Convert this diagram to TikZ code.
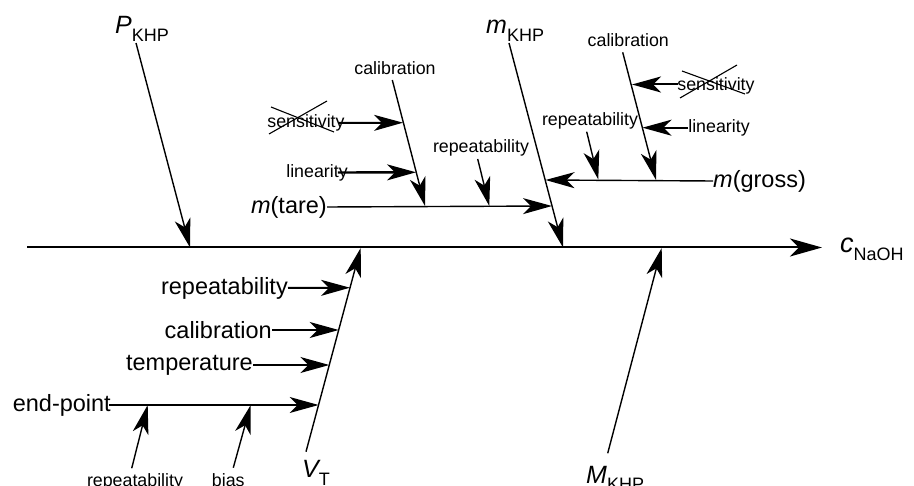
\documentclass[tikz,border=0pt]{standalone}
\usepackage{fontspec}
\setmainfont{Liberation Sans}
\usetikzlibrary{arrows.meta}

% italic quantity with a lowered upright index
\newcommand{\qsym}[3][25]{{\fontsize{#1}{#1}\selectfont\itshape #2}\raisebox{-8pt}{\fontsize{18}{18}\selectfont #3}}

\begin{document}
\begin{tikzpicture}[x=1pt,y=-1pt,
  bone/.style={line width=1.4pt,-{Stealth[length=29pt,width=16pt,inset=8pt]}},
  big/.style={inner sep=0pt,font=\fontsize{23.5}{26}\selectfont},
  small/.style={inner sep=0pt,font=\fontsize{17.8}{20}\selectfont},
  qty/.style={inner sep=0pt,anchor=base west},
  xout/.style={line width=1.1pt}]
  \useasboundingbox (0,0) rectangle (914,486);
  \clip (0,0) rectangle (914,486);

  % main spine
  \coordinate (s0) at (27,247.5);
  \coordinate (s1) at (822,247.5);
  \node[qty] (cnaoh) at (840,253) {\qsym[27]{c}{NaOH}};
  \draw[bone,line width=2pt,-{Stealth[length=32pt,width=18pt,inset=9pt]}] (s0) -- (s1);

  % purity of KHP
  \node[qty] (pkhp) at (115,33.5) {\qsym{P}{KHP}};
  \coordinate (pk0) at (136,43);
  \coordinate (pk1) at (190,247.5);
  \draw[bone] (pk0) -- (pk1);

  % mass of KHP
  \node[qty] (mkhp) at (486,33.5) {\qsym{m}{KHP}};
  \coordinate (mk0) at (509,43);
  \coordinate (mk1) at (563,247.5);
  \draw[bone] (mk0) -- (mk1);

  % tare weighing
  \node[big,anchor=east] (tare) at (327,207) {\textit{m}(tare)};
  \coordinate (tareE) at (552,206);
  \draw[bone] (tare.east) -- (tareE);
  \node[small] (calL) at (395,68) {calibration};
  \coordinate (cl0) at (392.3,80);
  \coordinate (cl1) at (425,206);
  \draw[bone] (cl0) -- (cl1);
  \node[small] (sensL) at (306,123) {sensitivity};
  \coordinate (slE) at (403,122.7);
  \draw[bone,line width=2pt] ([xshift=-6pt]sensL.east) -- (slE);
  \draw[xout] ([shift={(-35,-16)}]sensL.center) -- ([shift={(28,9)}]sensL.center);
  \draw[xout] ([shift={(-37,11)}]sensL.center) -- ([shift={(21,-22)}]sensL.center);
  \node[small] (linL) at (317,172.5) {linearity};
  \coordinate (llE) at (416,172.3);
  \draw[bone,line width=2.4pt] ([xshift=-10pt]linL.east) -- (llE);
  \node[small] (repT) at (481,148) {repeatability};
  \coordinate (rt0) at (477.7,159);
  \coordinate (rt1) at (489.3,206);
  \draw[bone] (rt0) -- (rt1);

  % gross weighing
  \node[big,anchor=west] (gross) at (713,181) {\textit{m}(gross)};
  \coordinate (grossE) at (545.5,180);
  \draw[bone] (gross.west) -- (grossE);
  \node[small] (calR) at (628.3,40) {calibration};
  \coordinate (cr0) at (622.7,52.3);
  \coordinate (cr1) at (656,180);
  \draw[bone] (cr0) -- (cr1);
  \node[small] (sensR) at (716,86) {sensitivity};
  \coordinate (srE) at (632,84.5);
  \draw[bone,line width=2pt] ([xshift=1pt]sensR.west |- srE) -- (srE);
  \draw[xout] ([shift={(-34,-15)}]sensR.center) -- ([shift={(29,8)}]sensR.center);
  \draw[xout] ([shift={(-36,12)}]sensR.center) -- ([shift={(21,-21)}]sensR.center);
  \node[small] (linR) at (719,128) {linearity};
  \coordinate (lrE) at (642.5,127.7);
  \draw[bone,line width=2pt] (linR.west |- lrE) -- (lrE);
  \node[small] (repG) at (590,121) {repeatability};
  \coordinate (rg0) at (586.7,131.7);
  \coordinate (rg1) at (598.3,179.5);
  \draw[bone] (rg0) -- (rg1);

  % titration volume
  \node[qty] (vt) at (302,478) {\qsym{V}{T}};
  \coordinate (vt0) at (306,451.7);
  \coordinate (vt1) at (360.7,248);
  \draw[bone] (vt0) -- (vt1);
  \node[big,anchor=east] (repV) at (288,288) {repeatability};
  \coordinate (rvE) at (350,287.7);
  \draw[bone,line width=2pt] (repV.east) -- (rvE);
  \node[big,anchor=east] (calV) at (272,330) {calibration};
  \coordinate (cvE) at (338.7,330);
  \draw[bone] (calV.east) -- (cvE);
  \node[big,anchor=east] (temp) at (253,365) {temperature};
  \coordinate (tvE) at (329.3,365);
  \draw[bone] (temp.east) -- (tvE);
  \node[big,anchor=east] (endp) at (111,405) {end-point};
  \coordinate (evE) at (318.6,405);
  \draw[bone] ([xshift=-2pt]endp.east) -- (evE);
  \node[small,anchor=base] (repE) at (135,486) {repeatability};
  \coordinate (re0) at (131.7,468.3);
  \coordinate (re1) at (147.7,405);
  \draw[bone] (re0) -- (re1);
  \node[small,anchor=base] (bias) at (228.3,486) {bias};
  \coordinate (bi0) at (233.3,467.7);
  \coordinate (bi1) at (250.7,405);
  \draw[bone] (bi0) -- (bi1);

  % molar mass of KHP
  \node[qty] (Mkhp) at (586,483) {\qsym{M}{KHP}};
  \coordinate (mm0) at (607.7,453.3);
  \coordinate (mm1) at (661.7,248);
  \draw[bone] (mm0) -- (mm1);
\end{tikzpicture}
\end{document}
